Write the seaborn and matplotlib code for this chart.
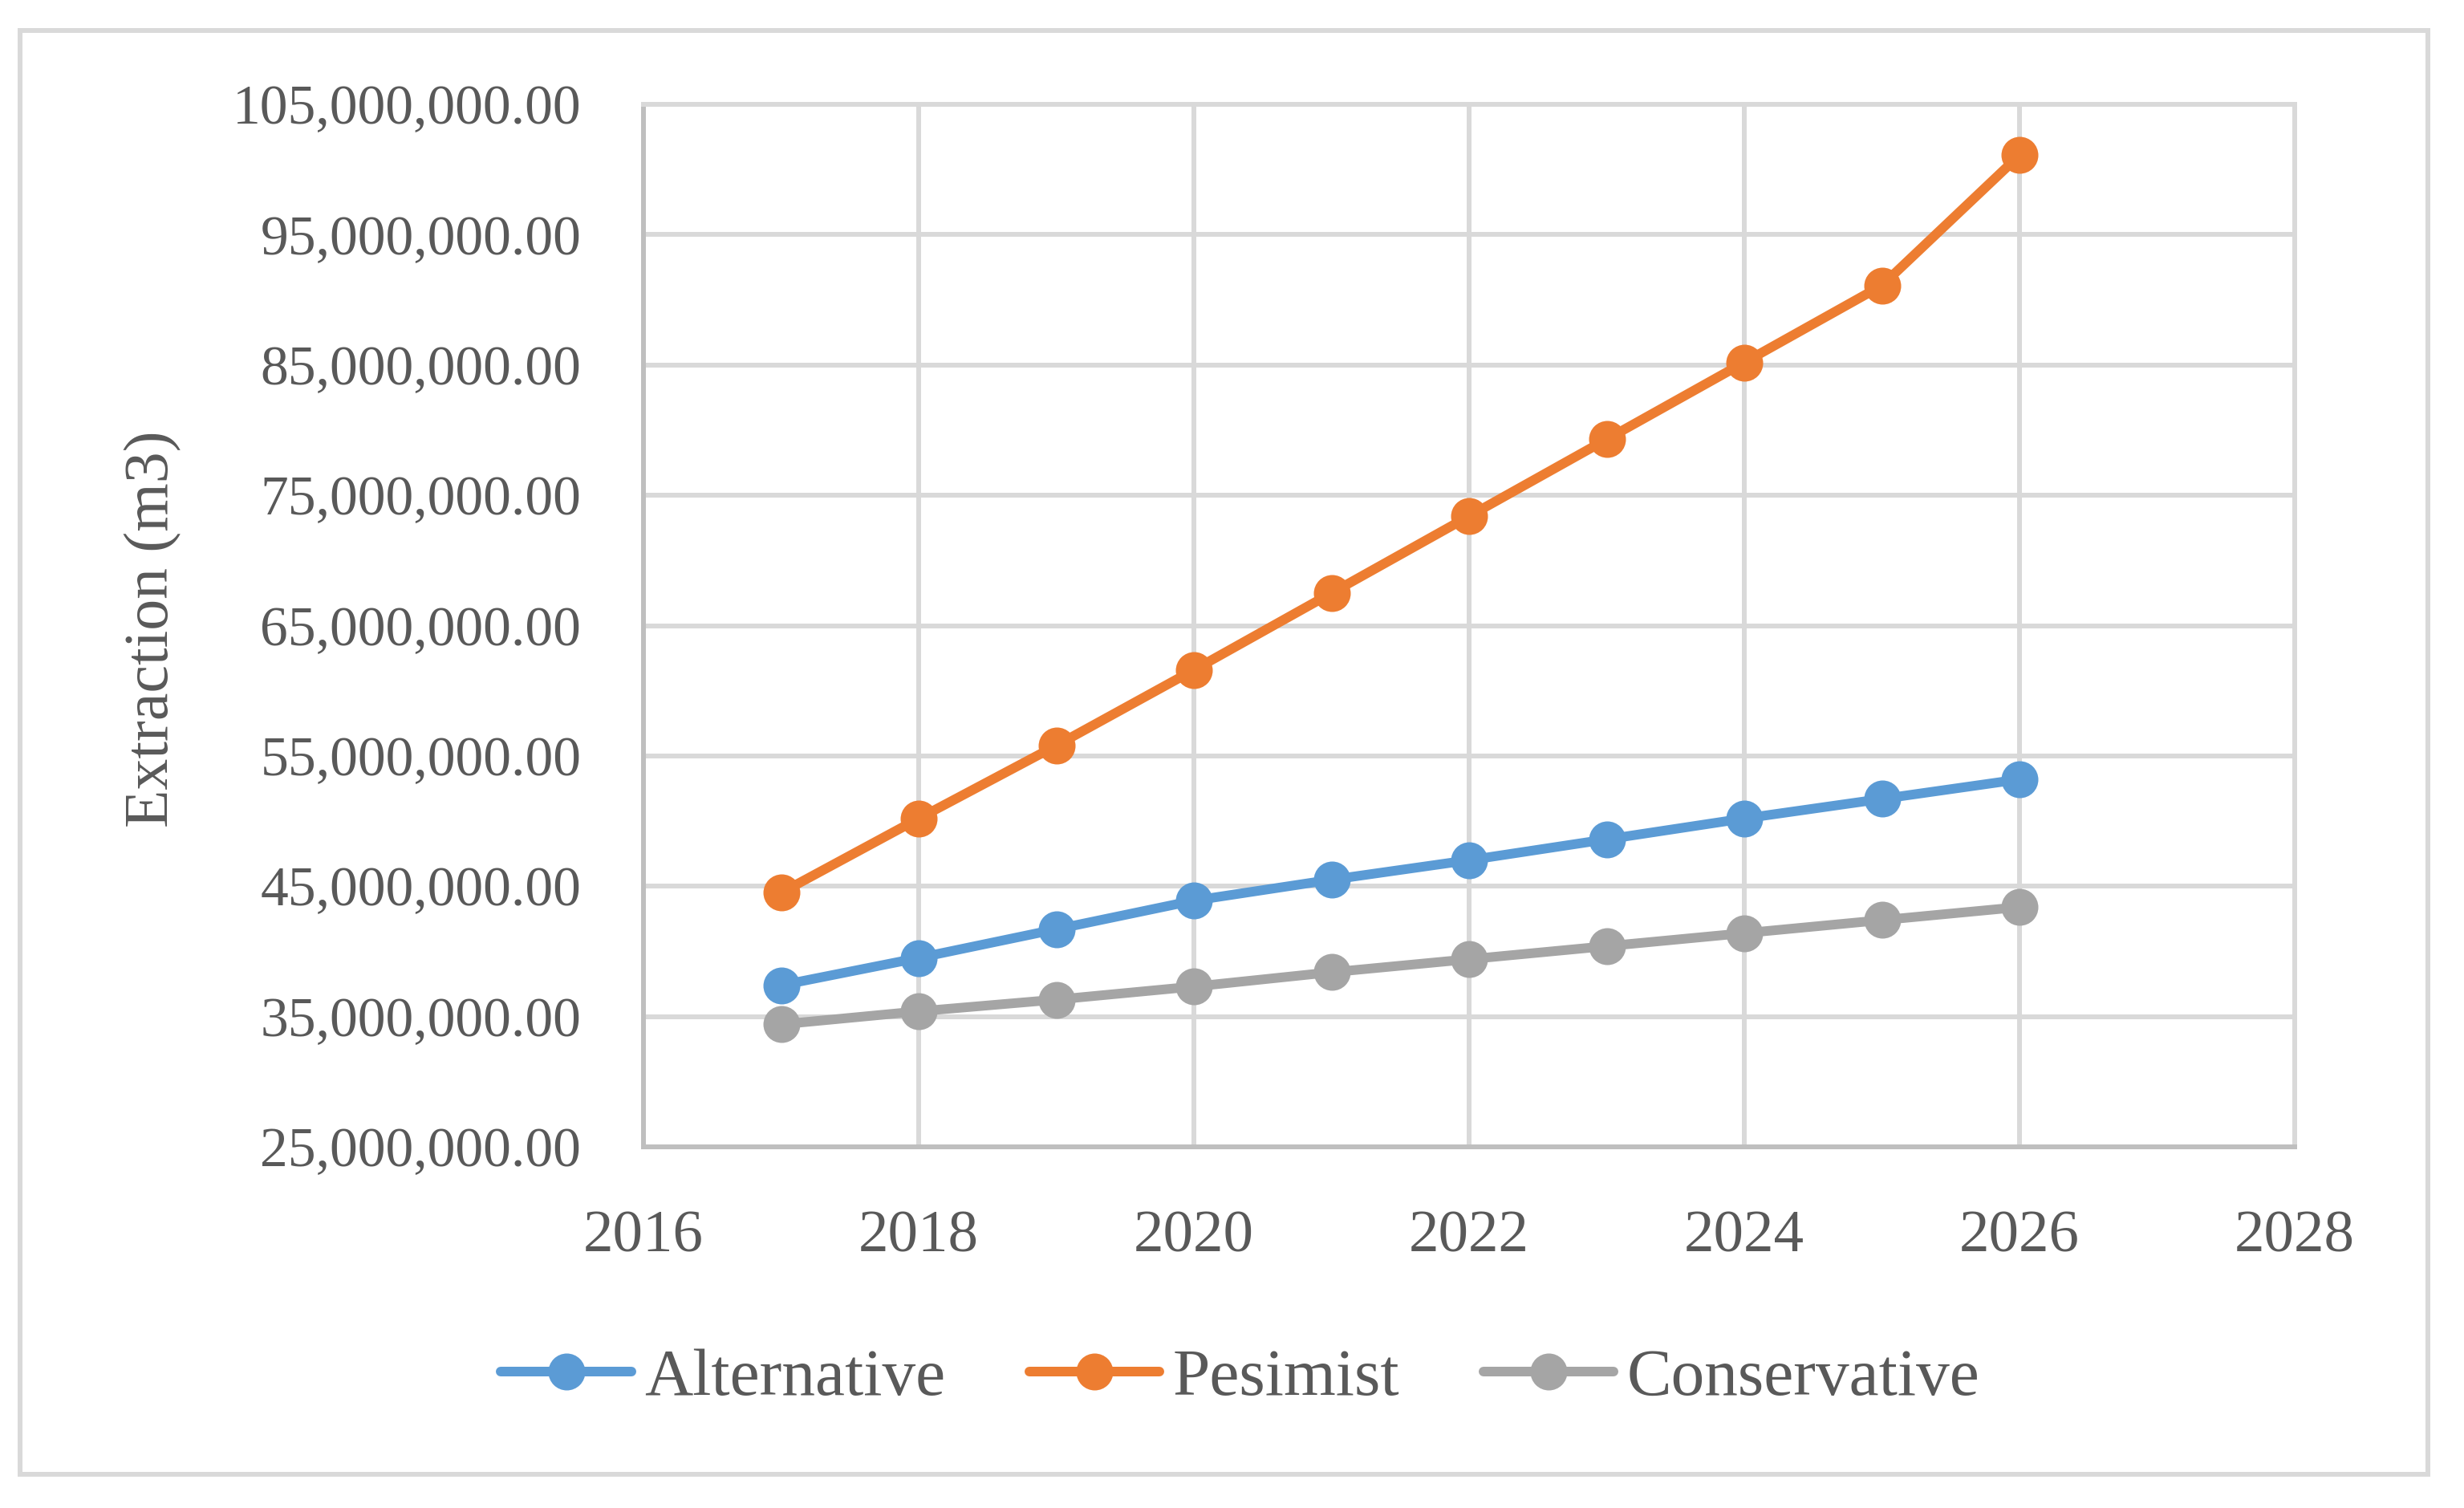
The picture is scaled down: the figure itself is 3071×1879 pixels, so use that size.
import matplotlib
matplotlib.use("Agg")
import matplotlib.pyplot as plt
from matplotlib.patches import Rectangle
from matplotlib.ticker import FuncFormatter, FixedLocator
import numpy as np
import pandas as pd
import seaborn as sns

# --- DATI ---
years = [2017, 2018, 2019, 2020, 2021, 2022, 2023, 2024, 2025, 2026]
alternative = [37.4, 39.5, 41.7, 43.9, 45.5, 47.0, 48.6, 50.2, 51.7, 53.2]
pesimist = [44.5, 50.2, 55.8, 61.6, 67.5, 73.4, 79.3, 85.2, 91.1, 101.1]
conservative = [34.4, 35.4, 36.3, 37.3, 38.4, 39.4, 40.4, 41.4, 42.4, 43.4]
scenarios = ["Alternative", "Pesimist", "Conservative"]
colors = ["#5B9BD5", "#ED7D31", "#A5A5A5"]
x_ticks = [2016, 2018, 2020, 2022, 2024, 2026, 2028]
y_ticks = [25e6, 35e6, 45e6, 55e6, 65e6, 75e6, 85e6, 95e6, 105e6]

df = pd.DataFrame({
    "Year": years * 3,
    "Extraction": np.array(alternative + pesimist + conservative) * 1e6,
    "Scenario": np.repeat(scenarios, len(years)),
})

sns.set_theme(style="white")
plt.rcParams["font.family"] = ["Liberation Serif", "DejaVu Serif"]
text_col = "#595959"
px = 0.72  # punti per pixel a dpi 100

fig = plt.figure(figsize=(30.71, 18.79), dpi=100)
ax = fig.add_axes([0.2612, 0.2395, 0.6701, 0.6913])

sns.lineplot(data=df, x="Year", y="Extraction", hue="Scenario", hue_order=scenarios,
             palette=colors, marker="o", markersize=46 * px, markeredgewidth=0,
             linewidth=12 * px, errorbar=None, ax=ax, legend=False, zorder=3)

ax.set_xlim(x_ticks[0], x_ticks[-1])
ax.set_ylim(y_ticks[0], y_ticks[-1])
ax.xaxis.set_major_locator(FixedLocator(x_ticks))
ax.yaxis.set_major_locator(FixedLocator(y_ticks))
ax.yaxis.set_major_formatter(FuncFormatter(lambda v, p: f"{v:,.2f}"))
ax.grid(True, color="#D9D9D9", linewidth=6 * px, zorder=0)
ax.set_axisbelow(True)
for s in ["left", "bottom"]:
    ax.spines[s].set_color("#BFBFBF")
    ax.spines[s].set_linewidth(6 * px)
for s in ["top", "right"]:
    ax.spines[s].set_color("#D9D9D9")
    ax.spines[s].set_linewidth(6 * px)
ax.tick_params(axis="y", length=0, pad=56, labelsize=50, labelcolor=text_col)
ax.tick_params(axis="x", length=0, pad=57, labelsize=54, labelcolor=text_col)
ax.set_xlabel("")
ax.set_ylabel("")

fig.text(0.0622, 0.583, "Extraction (m3)", rotation=90, ha="center", va="center",
         fontsize=56, color=text_col)

handles = ax.get_lines()[:3]
fig.legend(handles, scenarios, loc="center", bbox_to_anchor=(0.5034, 0.0857),
           ncol=3, frameon=False, fontsize=60, labelcolor=text_col,
           handlelength=1.95, handletextpad=0.2, columnspacing=1.25)

# cornice esterna del grafico
fig.patches.append(Rectangle((0.00814, 0.02235), 0.9772, 0.9574, transform=fig.transFigure,
                             fill=False, edgecolor="#D9D9D9", linewidth=6 * px))

fig.savefig("out.png", dpi=100, facecolor="white")
